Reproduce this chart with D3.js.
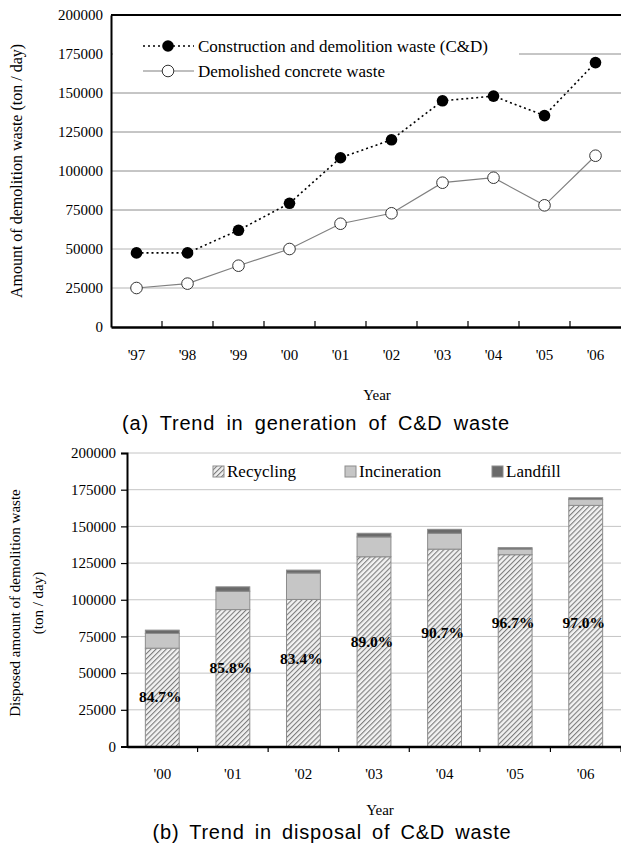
<!DOCTYPE html>
<html>
<head>
<meta charset="utf-8">
<script src="https://cdn.jsdelivr.net/npm/d3@7"></script>
<style>
  body { margin: 0; background: #fff; }
  text { font-family: "Liberation Serif", "Times New Roman", serif; fill: #000; }
  .cap { font-family: "Liberation Sans", Arial, sans-serif; }
</style>
</head>
<body>
<div id="chart"></div>
<script>
// ----- data: (a) generation -----
var yearsA = ["'97", "'98", "'99", "'00", "'01", "'02", "'03", "'04", "'05", "'06"];
var cdWaste = [47500, 47500, 62000, 79300, 108500, 120000, 145000, 148000, 135500, 169500];
var concreteWaste = [25000, 27800, 39300, 50000, 66200, 72900, 92500, 95700, 78000, 109800];

// ----- data: (b) disposal -----
var yearsB = ["'00", "'01", "'02", "'03", "'04", "'05", "'06"];
var recycling = [67000, 93300, 100200, 129300, 134500, 130700, 164300];
var incineration = [10000, 12500, 18000, 13500, 10800, 3800, 4000];
var landfill = [2300, 3000, 2000, 2500, 2700, 1000, 1200];
var recyclePct = ["84.7%", "85.8%", "83.4%", "89.0%", "90.7%", "96.7%", "97.0%"];
var pctLabelAt = [34000, 53500, 59700, 71300, 77300, 84100, 84100];

var yTicks = [0, 25000, 50000, 75000, 100000, 125000, 150000, 175000, 200000];

var svg = d3.select("#chart").append("svg")
    .attr("width", 621)
    .attr("height", 855);

// caption: slightly spaced letters, words spread to fill the width
function caption(g, txt, cx, y, width) {
    var t = g.append("text")
        .attr("class", "cap")
        .attr("x", cx).attr("y", y)
        .attr("text-anchor", "middle")
        .style("font-size", "20px")
        .style("letter-spacing", "0.8px")
        .text(txt);
    var natural = t.node().getComputedTextLength();
    var gaps = txt.split(" ").length - 1;
    t.style("word-spacing", Math.max(0, (width - natural) / gaps) + "px");
    return t;
}

// ======================= (a) =======================
var xA = d3.scaleBand().domain(yearsA).range([111, 621]);
var yA = d3.scaleLinear().domain([0, 200000]).range([327, 15]);

var gA = svg.append("g");

// gridlines
gA.selectAll(".gridA")
    .data(yTicks.filter(function(d) { return d > 0 && d < 200000; }))
    .enter()
    .append("line")
    .attr("x1", 111).attr("x2", 621)
    .attr("y1", function(d) { return yA(d); })
    .attr("y2", function(d) { return yA(d); })
    .attr("stroke", function(d) { return d <= 50000 ? "#b4b4b4" : "#8c8c8c"; })
    .attr("stroke-width", 1);

// legend box hides part of the top gridline
gA.append("rect")
    .attr("x", 113).attr("y", 28)
    .attr("width", 406).attr("height", 56)
    .attr("fill", "#fff");

// frame top
gA.append("line")
    .attr("x1", 111).attr("x2", 621)
    .attr("y1", yA(200000)).attr("y2", yA(200000))
    .attr("stroke", "#000").attr("stroke-width", 2);

// y axis
var axYA = gA.append("g")
    .attr("transform", "translate(111,0)")
    .call(d3.axisLeft(yA).tickValues(yTicks).tickSize(0).tickPadding(8).tickFormat(d3.format("d")));
axYA.select(".domain").attr("stroke", "#000").attr("stroke-width", 2);
axYA.selectAll("text").style("font-size", "15px").style("font-family", "Liberation Serif");

// x axis
var axXA = gA.append("g")
    .attr("transform", "translate(0,327)")
    .call(d3.axisBottom(xA).tickSize(0).tickPadding(22));
axXA.select(".domain").attr("stroke", "#000").attr("stroke-width", 2.5);
axXA.selectAll("text").style("font-size", "15px").style("font-family", "Liberation Serif");

gA.selectAll(".tickA")
    .data(yearsA.slice(1))
    .enter()
    .append("line")
    .attr("x1", function(d) { return xA(d); })
    .attr("x2", function(d) { return xA(d); })
    .attr("y1", 327).attr("y2", 321)
    .attr("stroke", "#000").attr("stroke-width", 1.2);

// lines
var cx = function(d, i) { return xA(yearsA[i]) + xA.bandwidth() / 2; };

var lineCD = d3.line().x(cx).y(function(d) { return yA(d); });

gA.append("path")
    .datum(concreteWaste)
    .attr("d", lineCD)
    .attr("fill", "none")
    .attr("stroke", "#808080")
    .attr("stroke-width", 1.2);

gA.append("path")
    .datum(cdWaste)
    .attr("d", lineCD)
    .attr("fill", "none")
    .attr("stroke", "#000")
    .attr("stroke-width", 1.6)
    .attr("stroke-dasharray", "2,3");

gA.selectAll(".ptConc")
    .data(concreteWaste)
    .enter()
    .append("circle")
    .attr("cx", cx)
    .attr("cy", function(d) { return yA(d); })
    .attr("r", 5.8)
    .attr("fill", "#fff")
    .attr("stroke", "#333")
    .attr("stroke-width", 1);

gA.selectAll(".ptCD")
    .data(cdWaste)
    .enter()
    .append("circle")
    .attr("cx", cx)
    .attr("cy", function(d) { return yA(d); })
    .attr("r", 5.8)
    .attr("fill", "#000");

// legend
var legA = gA.append("g");
legA.append("line").attr("x1", 143).attr("x2", 194).attr("y1", 46).attr("y2", 46)
    .attr("stroke", "#000").attr("stroke-width", 1.5).attr("stroke-dasharray", "2,3");
legA.append("circle").attr("cx", 168).attr("cy", 46).attr("r", 5.8).attr("fill", "#000");
legA.append("text").attr("x", 198).attr("y", 51.5).style("font-size", "17px")
    .text("Construction and demolition waste (C&D)");
legA.append("line").attr("x1", 143).attr("x2", 194).attr("y1", 71).attr("y2", 71)
    .attr("stroke", "#808080").attr("stroke-width", 1.2);
legA.append("circle").attr("cx", 168).attr("cy", 71).attr("r", 5.8)
    .attr("fill", "#fff").attr("stroke", "#333");
legA.append("text").attr("x", 198).attr("y", 76.5).style("font-size", "17px")
    .text("Demolished concrete waste");

// titles
gA.append("text")
    .attr("transform", "translate(22,171) rotate(-90)")
    .attr("text-anchor", "middle")
    .style("font-size", "16px")
    .text("Amount of demolition waste (ton / day)");
gA.append("text")
    .attr("x", 377).attr("y", 400)
    .attr("text-anchor", "middle")
    .style("font-size", "15px")
    .text("Year");
caption(gA, "(a) Trend in generation of C&D waste", 316, 430, 388);

// ======================= (b) =======================
var xB = d3.scaleBand().domain(yearsB).range([127, 621]).paddingInner(0.52).paddingOuter(0.26);
var yB = d3.scaleLinear().domain([0, 200000]).range([746.5, 453]);

var gB = svg.append("g");

var defs = svg.append("defs");
var pat = defs.append("pattern")
    .attr("id", "hatch")
    .attr("patternUnits", "userSpaceOnUse")
    .attr("width", 3.6).attr("height", 3.6)
    .attr("patternTransform", "rotate(45)");
pat.append("rect").attr("width", 3.6).attr("height", 3.6).attr("fill", "#f2f2f2");
pat.append("line").attr("x1", 0).attr("x2", 0).attr("y1", 0).attr("y2", 3.6)
    .attr("stroke", "#7c7c7c").attr("stroke-width", 2.2);

gB.selectAll(".gridB")
    .data(yTicks.filter(function(d) { return d > 0; }))
    .enter()
    .append("line")
    .attr("x1", 127).attr("x2", 621)
    .attr("y1", function(d) { return yB(d); })
    .attr("y2", function(d) { return yB(d); })
    .attr("stroke", "#c4c4c4")
    .attr("stroke-width", 1);

var rows = yearsB.map(function(y, i) {
    return { year: y, recycling: recycling[i], incineration: incineration[i], landfill: landfill[i] };
});
var keys = ["recycling", "incineration", "landfill"];
var fills = { recycling: "url(#hatch)", incineration: "#c6c6c6", landfill: "#6a6a6a" };
var stack = d3.stack().keys(keys)(rows);

gB.selectAll(".layer")
    .data(stack)
    .enter()
    .append("g")
    .attr("fill", function(d) { return fills[d.key]; })
    .selectAll("rect")
    .data(function(d) { return d; })
    .enter()
    .append("rect")
    .attr("x", function(d) { return xB(d.data.year); })
    .attr("y", function(d) { return yB(d[1]); })
    .attr("width", xB.bandwidth())
    .attr("height", function(d) { return yB(d[0]) - yB(d[1]); })
    .attr("stroke", "#8c8c8c")
    .attr("stroke-width", 1);

// percentage labels
gB.selectAll(".pct")
    .data(recyclePct)
    .enter()
    .append("text")
    .attr("x", function(d, i) { return xB(yearsB[i]) + xB.bandwidth() / 2 - 2; })
    .attr("y", function(d, i) { return yB(pctLabelAt[i]) + 5; })
    .attr("text-anchor", "middle")
    .style("font-size", "15.5px")
    .style("font-weight", "bold")
    .text(function(d) { return d; });

// y axis
var axYB = gB.append("g")
    .attr("transform", "translate(127,0)")
    .call(d3.axisLeft(yB).tickValues(yTicks).tickSize(6).tickPadding(5).tickFormat(d3.format("d")));
axYB.select(".domain").attr("stroke", "#000").attr("stroke-width", 2);
axYB.selectAll(".tick line").attr("stroke", "#000").attr("stroke-width", 1.2);
axYB.selectAll("text").style("font-size", "15px").style("font-family", "Liberation Serif");

// x axis
var axXB = gB.append("g")
    .attr("transform", "translate(0,746.5)")
    .call(d3.axisBottom(xB).tickSize(0).tickPadding(22));
axXB.select(".domain").attr("stroke", "#000").attr("stroke-width", 2.5);
axXB.selectAll("text").style("font-size", "15px").style("font-family", "Liberation Serif");

gB.selectAll(".tickB")
    .data(d3.range(1, yearsB.length + 1))
    .enter()
    .append("line")
    .attr("x1", function(k) { return xB.range()[0] + k * xB.step(); })
    .attr("x2", function(k) { return xB.range()[0] + k * xB.step(); })
    .attr("y1", 746.5).attr("y2", 752)
    .attr("stroke", "#000").attr("stroke-width", 1.2);

// legend
var legItems = [
    { key: "recycling", label: "Recycling", x: 213 },
    { key: "incineration", label: "Incineration", x: 345 },
    { key: "landfill", label: "Landfill", x: 492 }
];
var legB = gB.selectAll(".legB")
    .data(legItems)
    .enter()
    .append("g");
legB.append("rect")
    .attr("x", function(d) { return d.x; })
    .attr("y", 466)
    .attr("width", 11).attr("height", 11)
    .attr("fill", function(d) { return fills[d.key]; })
    .attr("stroke", "#8c8c8c");
legB.append("text")
    .attr("x", function(d) { return d.x + 14; })
    .attr("y", 477)
    .style("font-size", "17px")
    .text(function(d) { return d.label; });

// titles
var ylab = gB.append("text")
    .attr("transform", "translate(20,603) rotate(-90)")
    .attr("text-anchor", "middle")
    .style("font-size", "15px");
ylab.append("tspan").attr("x", 0).attr("dy", 0).text("Disposed amount of demolition waste");
ylab.append("tspan").attr("x", 0).attr("dy", "1.5em").text("(ton / day)");

gB.append("text")
    .attr("x", 380).attr("y", 815)
    .attr("text-anchor", "middle")
    .style("font-size", "15px")
    .text("Year");
caption(gB, "(b) Trend in disposal of C&D waste", 332, 839, 359);
</script>
</body>
</html>
